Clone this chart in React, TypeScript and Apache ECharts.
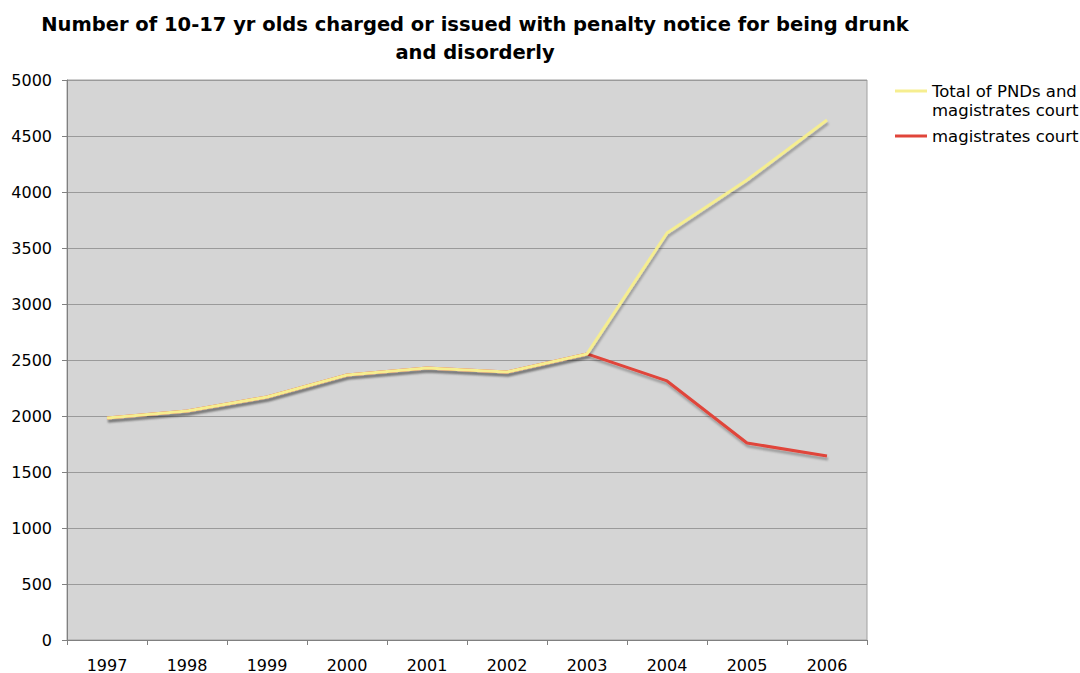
import React, { useEffect, useRef } from "react";
import * as echarts from "echarts";

const years = ["1997", "1998", "1999", "2000", "2001", "2002", "2003", "2004", "2005", "2006"];
const totalPNDsAndCourt = [1982, 2045, 2170, 2366, 2429, 2393, 2554, 3634, 4107, 4643];
const magistratesCourt = [1982, 2045, 2170, 2366, 2429, 2393, 2554, 2313, 1759, 1643];
const totalName = "Total of PNDs and magistrates court";
const courtName = "magistrates court";
const titleText = "Number of 10-17 yr olds charged or issued with penalty notice for being drunk\nand disorderly";

const FONT = "DejaVu Sans, Verdana, sans-serif";

export default function App() {
  const ref = useRef<HTMLDivElement>(null);
  useEffect(() => {
    if (!ref.current) return;
    const chart = echarts.init(ref.current, undefined, { renderer: "svg" });
    const shadow = {
      shadowColor: "rgba(0,0,0,0.28)",
      shadowBlur: 2,
      shadowOffsetX: 1,
      shadowOffsetY: 3,
    };
    chart.setOption({
      animation: false,
      backgroundColor: "#ffffff",
      textStyle: { fontFamily: FONT },
      title: {
        text: titleText,
        left: 470,
        textAlign: "center",
        top: 5,
        textStyle: {
          fontFamily: FONT,
          fontSize: 19.5,
          fontWeight: "bold",
          color: "#000",
          lineHeight: 28,
        },
      },
      legend: {
        orient: "vertical",
        left: 895,
        top: 82,
        padding: 0,
        icon: "rect",
        itemWidth: 32,
        itemHeight: 3,
        itemGap: 27,
        data: [totalName, courtName],
        formatter: (name: string) => (name === totalName ? "Total of PNDs and" : name),
        textStyle: { fontFamily: FONT, fontSize: 16.5, color: "#000", lineHeight: 18, height: 18 },
      },
      graphic: [
        {
          type: "text",
          left: 932,
          top: 102,
          style: { text: "magistrates court", font: `16.5px ${FONT}`, fill: "#000" },
        },
      ],
      grid: {
        left: 67,
        top: 80,
        width: 800,
        height: 560,
        show: true,
        backgroundColor: "#d5d5d5",
        borderColor: "#a0a0a0",
        borderWidth: 1,
      },
      xAxis: {
        type: "category",
        data: years,
        boundaryGap: true,
        axisLine: { lineStyle: { color: "#808080", width: 1 } },
        axisTick: { show: true, length: 5, alignWithLabel: false, lineStyle: { color: "#808080" } },
        axisLabel: { fontFamily: FONT, fontSize: 16, color: "#000", margin: 17 },
        splitLine: { show: false },
      },
      yAxis: {
        type: "value",
        min: 0,
        max: 5000,
        interval: 500,
        axisLine: { show: true, lineStyle: { color: "#808080", width: 1 } },
        axisTick: { show: true, length: 5, lineStyle: { color: "#808080" } },
        axisLabel: {
          fontFamily: FONT,
          fontSize: 16,
          color: "#000",
          margin: 15,
          formatter: (v: number) => String(v),
        },
        splitLine: { show: true, lineStyle: { color: "#9a9a9a", width: 1 } },
      },
      series: [
        {
          name: courtName,
          type: "line",
          data: magistratesCourt,
          symbol: "none",
          z: 2,
          lineStyle: { color: "#e0453a", width: 3, ...shadow },
          itemStyle: { color: "#e0453a" },
        },
        {
          name: totalName,
          type: "line",
          data: totalPNDsAndCourt,
          symbol: "none",
          z: 3,
          lineStyle: { color: "#f6ee90", width: 3, ...shadow },
          itemStyle: { color: "#f6ee90" },
        },
      ],
    });
    return () => chart.dispose();
  }, []);
  return (
    <div
      ref={ref}
      style={{ position: "absolute", left: 0, top: 0, width: 1080, height: 673 }}
    />
  );
}
